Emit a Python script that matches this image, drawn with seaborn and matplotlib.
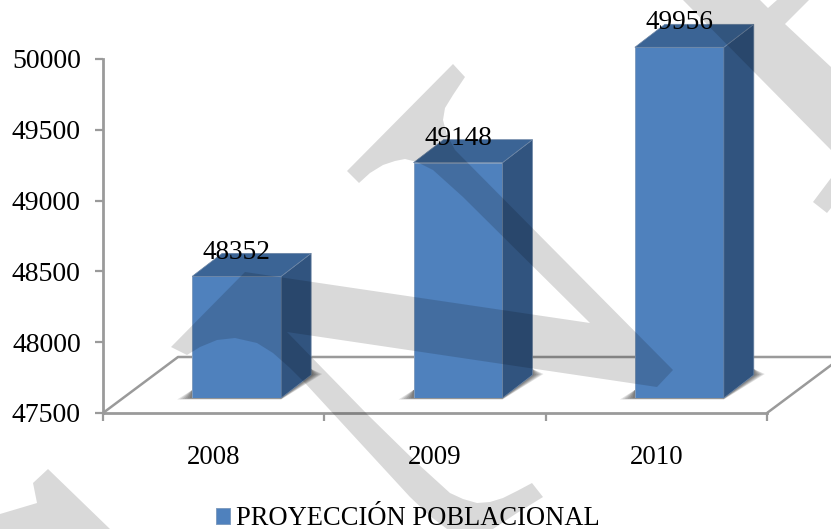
import pandas as pd
import seaborn as sns
import matplotlib.pyplot as plt
from matplotlib.patches import Polygon
from matplotlib.lines import Line2D
from matplotlib.transforms import Affine2D

anios = ["2008", "2009", "2010"]
poblacion = [48352, 49148, 49956]
serie = "PROYECCIÓN POBLACIONAL"
y_ticks = [47500, 48000, 48500, 49000, 49500, 50000]

W, H = 831, 529
GRIS = "#9a9a9a"
FRENTE = "#4f81bd"
LADO = "#31547f"
TAPA = "#3b6495"

sns.set_theme(style="white")
plt.rcParams["font.family"] = ["Liberation Serif", "DejaVu Serif"]
plt.rcParams["text.color"] = "black"

df = pd.DataFrame({"anio": anios, "poblacion": poblacion, "serie": serie})

fig = plt.figure(figsize=(W / 100, H / 100), dpi=100, facecolor="white")

# pixels measured from the top left, for the frame and the watermark
px = Affine2D().scale(1, -1).translate(0, H)

# back axes: scale, ticks and floor
ax = fig.add_axes([103 / W, (H - 413) / H, 664 / W, 354 / H])
ax.set_xlim(-0.5, 2.5)
ax.set_ylim(47500, 50000)
ax.set_yticks(y_ticks)
ax.set_xticks(range(len(anios)), anios)
ax.set_xticks([-0.5, 0.5, 1.5, 2.5], minor=True)
ax.tick_params(axis="y", left=True, length=6, width=1.6, color=GRIS, pad=10, labelsize=20, labelcolor="black")
ax.tick_params(axis="x", which="major", bottom=False, pad=17, labelsize=19.4, labelcolor="black")
ax.tick_params(axis="x", which="minor", bottom=True, length=6, width=1.6, color=GRIS)
sns.despine(ax=ax)
for lado in ["left", "bottom"]:
    ax.spines[lado].set_color(GRIS)
    ax.spines[lado].set_linewidth(2.0)

for xs, ys in [((103, 178, 842), (413, 357, 357)), ((767, 842), (413, 357))]:
    fig.add_artist(Line2D(xs, ys, color=GRIS, lw=1.8, transform=px, zorder=1.5))

# front plane of the bars, shifted along the floor
ax_b = fig.add_axes([126 / W, (H - 398) / H, 664 / W, 357 / H], zorder=2)
ax_b.patch.set_alpha(0)
sns.barplot(data=df, x="anio", y="poblacion", hue="serie", palette=[FRENTE], width=0.402, saturation=1,
            edgecolor="#7f9cc0", linewidth=0.7, ax=ax_b)
ax_b.set_xlim(-0.5, 2.5)
ax_b.set_ylim(47500, 50000)
handles, labels = ax_b.get_legend_handles_labels()
ax_b.get_legend().remove()
ax_b.axis("off")

ax_b.bar_label(ax_b.containers[0], fmt="%d", padding=8.5, fontsize=19.6, color="black", clip_on=False)

# depth of the boxes, in data units of ax_b
sx = 664 / 3
sy = 357 / 2500
dx = 30 / sx
dy = 23 / sy
for bar in ax_b.containers[0]:
    x0 = bar.get_x()
    x1 = x0 + bar.get_width()
    top = bar.get_height()
    base = 47500
    # soft shadow on the floor
    for i in range(6):
        e = 1 - i / 6
        sombra = [(x0 - 15 * e / sx, base - 1.5 * e / sy), (x1, base - 1.5 * e / sy),
                  (x1 + (dx * sx + 11 * e) / sx, base + (dy * sy + 1 * e) / sy),
                  (x1 + dx, base + (dy * sy + 6) / sy), (x0, base + 8 / sy)]
        ax_b.add_patch(Polygon(sombra, closed=True, fc="black", ec="none", alpha=0.11, zorder=0.5, clip_on=False))
    ax_b.add_patch(Polygon([(x1, base), (x1 + dx, base + dy), (x1 + dx, top + dy), (x1, top)],
                           closed=True, fc=LADO, ec="#6d86a5", lw=0.5, zorder=1, clip_on=False))
    ax_b.add_patch(Polygon([(x0, top), (x1, top), (x1 + dx, top + dy), (x0 + dx, top + dy)],
                           closed=True, fc=TAPA, ec="#6d86a5", lw=0.5, zorder=1, clip_on=False))

fig.legend(handles, labels, loc="lower left", bbox_to_anchor=(192 / W, -26 / H), frameon=False,
           fontsize=19.1, handlelength=0.55, handleheight=0.55, handletextpad=0.22)

# watermark over everything
marca = [
    [(453, 64), (465, 77), (453, 95), (445, 108), (443, 120), (447, 135), (455, 150), (673, 370), (657, 387),
     (287, 332), (368, 415), (417, 463), (450, 493), (463, 499), (477, 503), (490, 502), (503, 498),
     (517, 491), (532, 483), (543, 497), (517, 513), (493, 529), (447, 529), (430, 516), (410, 497),
     (305, 383), (290, 368), (273, 353), (257, 343), (235, 338), (217, 340), (200, 347), (187, 355),
     (171, 347), (245, 272), (590, 323), (463, 197), (433, 170), (417, 162), (405, 159), (395, 161),
     (383, 165), (370, 173), (359, 183), (347, 171)],
    [(683, 0), (760, 0), (768, 8), (777, 0), (809, 0), (785, 24), (831, 67), (831, 150)],
    [(813, 202), (831, 178), (831, 208), (827, 213)],
    [(48, 469), (33, 483), (37, 503), (0, 514), (0, 529), (110, 529)],
]
for forma in marca:
    fig.add_artist(Polygon(forma, closed=True, fc="black", ec="none", alpha=0.15, transform=px, zorder=10))

fig.savefig("out.png", dpi=100)
